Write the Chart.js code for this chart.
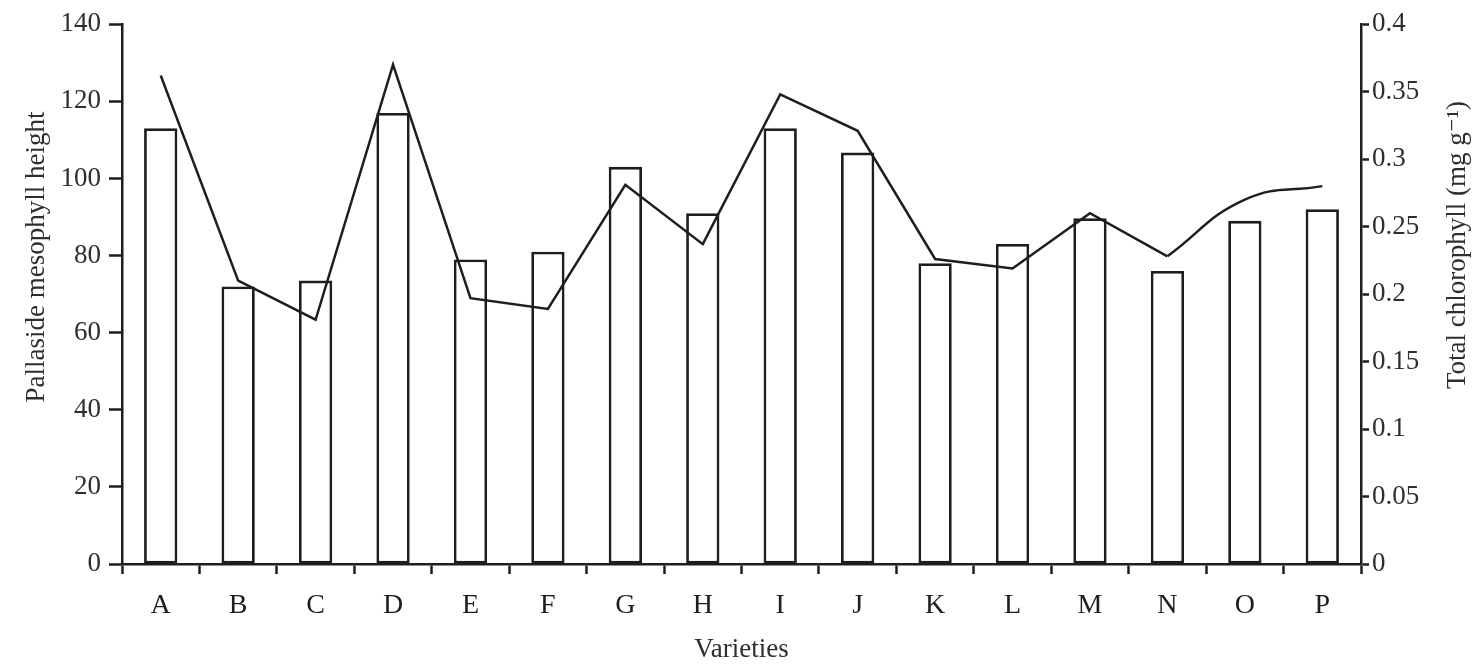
<!DOCTYPE html>
<html>
<head>
<meta charset="utf-8">
<script src="https://cdn.jsdelivr.net/npm/chart.js@4"></script>
<style>
  html, body { margin: 0; padding: 0; background: #fff; }
  #wrap { width: 1474px; height: 668px; }
</style>
</head>
<body>
<div id="wrap"><canvas id="chart" width="1474" height="668"></canvas></div>
<script>
// data
const varieties = ['A', 'B', 'C', 'D', 'E', 'F', 'G', 'H', 'I', 'J', 'K', 'L', 'M', 'N', 'O', 'P'];
const mesophyllHeight = [113, 72, 73.5, 117, 79, 81, 103, 91, 113, 106.7, 78, 83, 89.7, 76, 89, 92];
const chlorophyll = [0.362, 0.210, 0.181, 0.370, 0.197, 0.189, 0.281, 0.237, 0.348, 0.321, 0.226, 0.219, 0.260, 0.228, 0.270, 0.280];
const leftTicks = [0, 20, 40, 60, 80, 100, 120, 140];
const rightTicks = [0, 0.05, 0.1, 0.15, 0.2, 0.25, 0.3, 0.35, 0.4];

// the last stretch (N to P) is drawn as a smooth curve in the original
const curveFrom = 13;
const straightPart = chlorophyll.map((v, i) => i <= curveFrom ? v : null);
const curvedPart = chlorophyll.map((v, i) => i >= curveFrom ? v : null);

const ink = '#1e1e1e';
const serif = '"Liberation Serif", "DejaVu Serif", serif';

const axisTitles = {
    id: 'axisTitles',
    afterDraw(chart) {
        const ctx = chart.ctx;
        ctx.save();
        ctx.fillStyle = '#2e2e2e';
        ctx.font = '27px ' + serif;
        ctx.textAlign = 'center';
        ctx.textBaseline = 'middle';

        ctx.save();
        ctx.translate(37, 257);
        ctx.rotate(-Math.PI / 2);
        ctx.fillText('Pallaside mesophyll height', 0, 0);
        ctx.restore();

        ctx.save();
        ctx.translate(1458, 245);
        ctx.rotate(-Math.PI / 2);
        ctx.fillText('Total chlorophyll (mg g\u207B\u00B9)', 0, 0);
        ctx.restore();

        ctx.restore();
    }
};

const ctx = document.getElementById('chart').getContext('2d');
new Chart(ctx, {
    data: {
        labels: varieties,
        datasets: [
            {
                type: 'line',
                data: straightPart,
                yAxisID: 'y1',
                borderColor: ink,
                borderWidth: 2.5,
                pointRadius: 0,
                tension: 0,
                spanGaps: false,
                order: 0
            },
            {
                type: 'line',
                data: curvedPart,
                yAxisID: 'y1',
                borderColor: ink,
                borderWidth: 2.5,
                pointRadius: 0,
                tension: 0.45,
                spanGaps: false,
                order: 0
            },
            {
                type: 'bar',
                data: mesophyllHeight,
                yAxisID: 'y',
                backgroundColor: '#fff',
                borderColor: ink,
                borderWidth: 2.8,
                borderSkipped: false,
                barPercentage: 0.43,
                categoryPercentage: 1,
                order: 1
            }
        ]
    },
    options: {
        responsive: false,
        animation: false,
        layout: { padding: { top: 21, right: 0, left: 0, bottom: 0 } },
        plugins: {
            legend: { display: false },
            tooltip: { enabled: false }
        },
        scales: {
            x: {
                type: 'category',
                offset: true,
                grid: {
                    offset: true,
                    drawOnChartArea: false,
                    drawTicks: true,
                    tickLength: 10,
                    tickWidth: 2.5,
                    tickColor: ink
                },
                border: { display: true, color: ink, width: 2.5 },
                ticks: {
                    color: ink,
                    font: { family: serif, size: 28 },
                    padding: 15,
                    maxRotation: 0
                },
                title: {
                    display: true,
                    text: 'Varieties',
                    color: '#2e2e2e',
                    font: { family: serif, size: 27 },
                    padding: { top: 0, bottom: 2 }
                },
                afterFit: s => { s.height = 104; }
            },
            y: {
                position: 'left',
                min: 0,
                max: 140,
                afterBuildTicks: s => { s.ticks = leftTicks.map(v => ({ value: v })); },
                grid: {
                    drawOnChartArea: false,
                    tickLength: 13,
                    tickWidth: 2.5,
                    tickColor: ink
                },
                border: { display: true, color: ink, width: 2.5 },
                ticks: {
                    color: '#2e2e2e',
                    font: { family: serif, size: 27 },
                    padding: 8
                },
                afterFit: s => { s.width = 122; }
            },
            y1: {
                position: 'right',
                min: 0,
                max: 0.4,
                afterBuildTicks: s => { s.ticks = rightTicks.map(v => ({ value: v })); },
                grid: {
                    drawOnChartArea: false,
                    tickLength: 8,
                    tickWidth: 2.5,
                    tickColor: ink
                },
                border: { display: true, color: ink, width: 2.5 },
                ticks: {
                    color: '#2e2e2e',
                    font: { family: serif, size: 27 },
                    padding: 3,
                    callback: v => String(+v.toFixed(2))
                },
                afterFit: s => { s.width = 113; }
            }
        }
    },
    plugins: [axisTitles]
});
</script>
</body>
</html>
